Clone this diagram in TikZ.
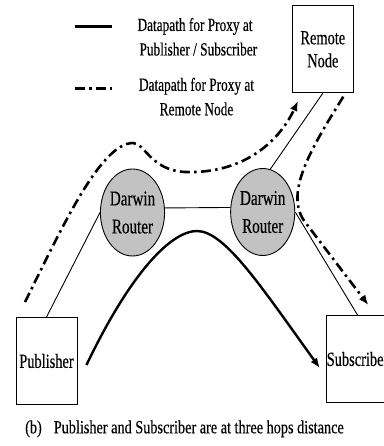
\documentclass[tikz,border=0pt]{standalone}
\usepackage{fontspec}
\setmainfont{Liberation Serif}[FakeStretch=0.72, FakeBold=0.3]
\newfontfamily\captionfont{Liberation Serif}[FakeStretch=0.77, FakeBold=0.3]
\usetikzlibrary{shapes.geometric, arrows.meta, positioning}

\begin{document}
\begin{tikzpicture}[
    x=1pt, y=-1pt,
    box/.style={
      rectangle,
      draw,
      line width=0.9pt,
      minimum width=61pt,
      minimum height=87pt,
      align=center,
      inner sep=1pt,
      font=\fontsize{20pt}{23pt}\selectfont
    },
    router/.style={
      ellipse,
      draw,
      line width=0.9pt,
      fill=black!24,
      minimum width=61pt,
      minimum height=87pt,
      inner sep=0pt,
      align=center,
      font=\fontsize{21pt}{28pt}\selectfont
    },
    link/.style={line width=0.9pt},
    datapath/.style={line width=2.4pt},
    proxypath/.style={
      line width=2.6pt,
      dash pattern=on 10pt off 4.3pt on 2.5pt off 4.3pt
    },
    headed/.style={-{Latex[length=10pt,width=8pt]}},
    legendtext/.style={inner sep=0pt, font=\fontsize{18.5pt}{24.5pt}\selectfont}
  ]
  \useasboundingbox (0,0) rectangle (383,446);

  % Legend
  \coordinate (solidA) at (75,26.7);
  \coordinate (solidB) at (111.7,26.7);
  \coordinate (dashA) at (75,88.3);
  \coordinate (dashB) at (111.7,88.3);
  \draw[line width=2.6pt] (solidA) -- (solidB);
  \draw[proxypath] (dashA) -- (dashB);
  \node[legendtext, anchor=west, align=left] (legendsolid) at (137.3,36.8) {Datapath for Proxy at\\\hspace{2pt}Publisher / Subscriber};
  \node[legendtext, align=center] (legenddash) at (196.5,96.6) {Datapath for Proxy at\\Remote Node};

  % Entities
  \node[box] (remote) at (322.8,49.3) {Remote\\Node};
  \node[router] (router1) at (132.5,212.5) {Darwin\\Router};
  \node[router] (router2) at (262.7,212) {Darwin\\Router};
  \node[box] (publisher) at (46.5,361) {Publisher};
  \node[box, anchor=west, inner xsep=0.5pt] (subscriber) at (325.8,359) {Subscriber};

  % Links
  \draw[link] (publisher.north) -- (router1.west);
  \draw[link] (router1.8) -- (router2.172);
  \draw[link] (router2.80) -- (remote.south);
  \draw[link] (router2.east) -- (subscriber.north);

  % Datapath with proxy at publisher / subscriber
  \draw[datapath, headed] ([shift={(9pt,-4pt)}]publisher.east) .. controls (132,270) and (172,231) .. (197,231)
    .. controls (225,231) and (262,288) .. ([shift={(-6pt,-9pt)}]subscriber.west);

  % Datapath with proxy at remote node
  \coordinate (proxystart) at (25,302);
  \coordinate (proxyturn) at (298,101);
  \coordinate (proxyback) at (343.3,96.7);
  \coordinate (proxyend) at (368.3,305);
  \draw[proxypath, headed] (proxystart) .. controls (60,232) and (100,143) .. (133,143)
    .. controls (145,143) and (150,170) .. (185,172)
    .. controls (245,174) and (280,140) .. (proxyturn);
  \draw[proxypath, headed] (proxyback) .. controls (310,150) and (284,194) .. (305,222) -- (proxyend);

  % Caption
  \node[anchor=base west, inner sep=0pt, font=\captionfont\fontsize{18.5pt}{22pt}\selectfont] (caption) at (25,433.3) {(b)\hspace{12pt}Publisher and Subscriber are at three hops distance};
\end{tikzpicture}
\end{document}
